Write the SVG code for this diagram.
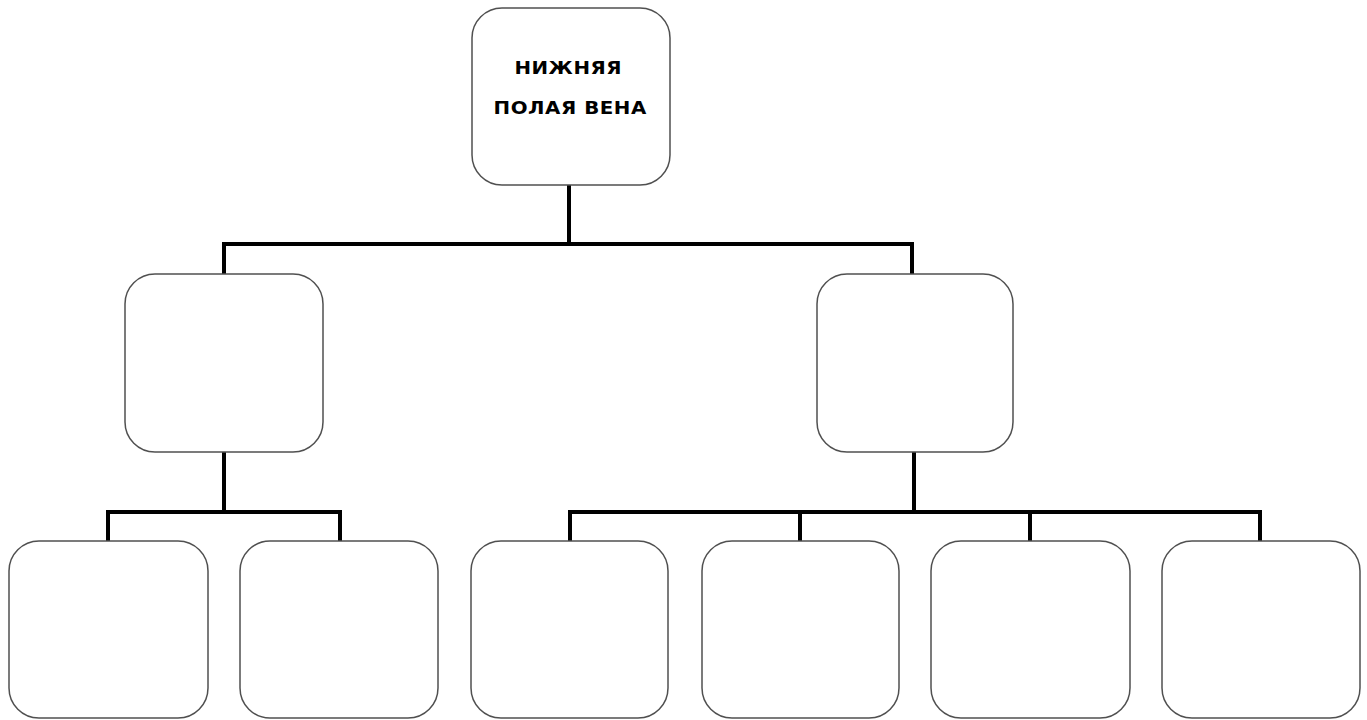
<svg xmlns="http://www.w3.org/2000/svg" width="1367" height="720" viewBox="0 0 1367 720">
<style>
.node{fill:#fff;stroke:#505050;stroke-width:1.5}
.conn{fill:none;stroke:#000;stroke-width:4;stroke-linecap:square}
.lbl{font-family:"DejaVu Sans","Liberation Sans",sans-serif;font-weight:bold;font-size:18px;letter-spacing:0.5px;fill:#000;text-anchor:middle}
</style>
<rect width="1367" height="720" fill="#fff"/>
<g id="connectors">
<path class="conn" d="M569 186V244M224 244H912M224 244V273M912 244V273"/>
<path class="conn" d="M224 453V512M108 512H340M108 512V540M340 512V540"/>
<path class="conn" d="M914 453V512M570 512H1260M570 512V540M800 512V540M1030 512V540M1260 512V540"/>
</g>
<g id="root"><rect class="node" x="472" y="8" width="198" height="177" rx="30"/>
<g transform="translate(570 0) scale(1.1 1)"><text class="lbl" x="-1.6" y="74">НИЖНЯЯ</text><text class="lbl" x="0.2" y="114">ПОЛАЯ ВЕНА</text></g></g>
<g id="mid-left"><rect class="node" x="125" y="274" width="198" height="178" rx="30"/></g>
<g id="mid-right"><rect class="node" x="817" y="274" width="196" height="178" rx="30"/></g>
<g id="leaf-1"><rect class="node" x="9" y="541" width="199" height="177" rx="30"/></g>
<g id="leaf-2"><rect class="node" x="240" y="541" width="198" height="177" rx="30"/></g>
<g id="leaf-3"><rect class="node" x="471" y="541" width="197" height="177" rx="30"/></g>
<g id="leaf-4"><rect class="node" x="702" y="541" width="197" height="177" rx="30"/></g>
<g id="leaf-5"><rect class="node" x="931" y="541" width="199" height="177" rx="30"/></g>
<g id="leaf-6"><rect class="node" x="1162" y="541" width="198" height="177" rx="30"/></g>
</svg>
